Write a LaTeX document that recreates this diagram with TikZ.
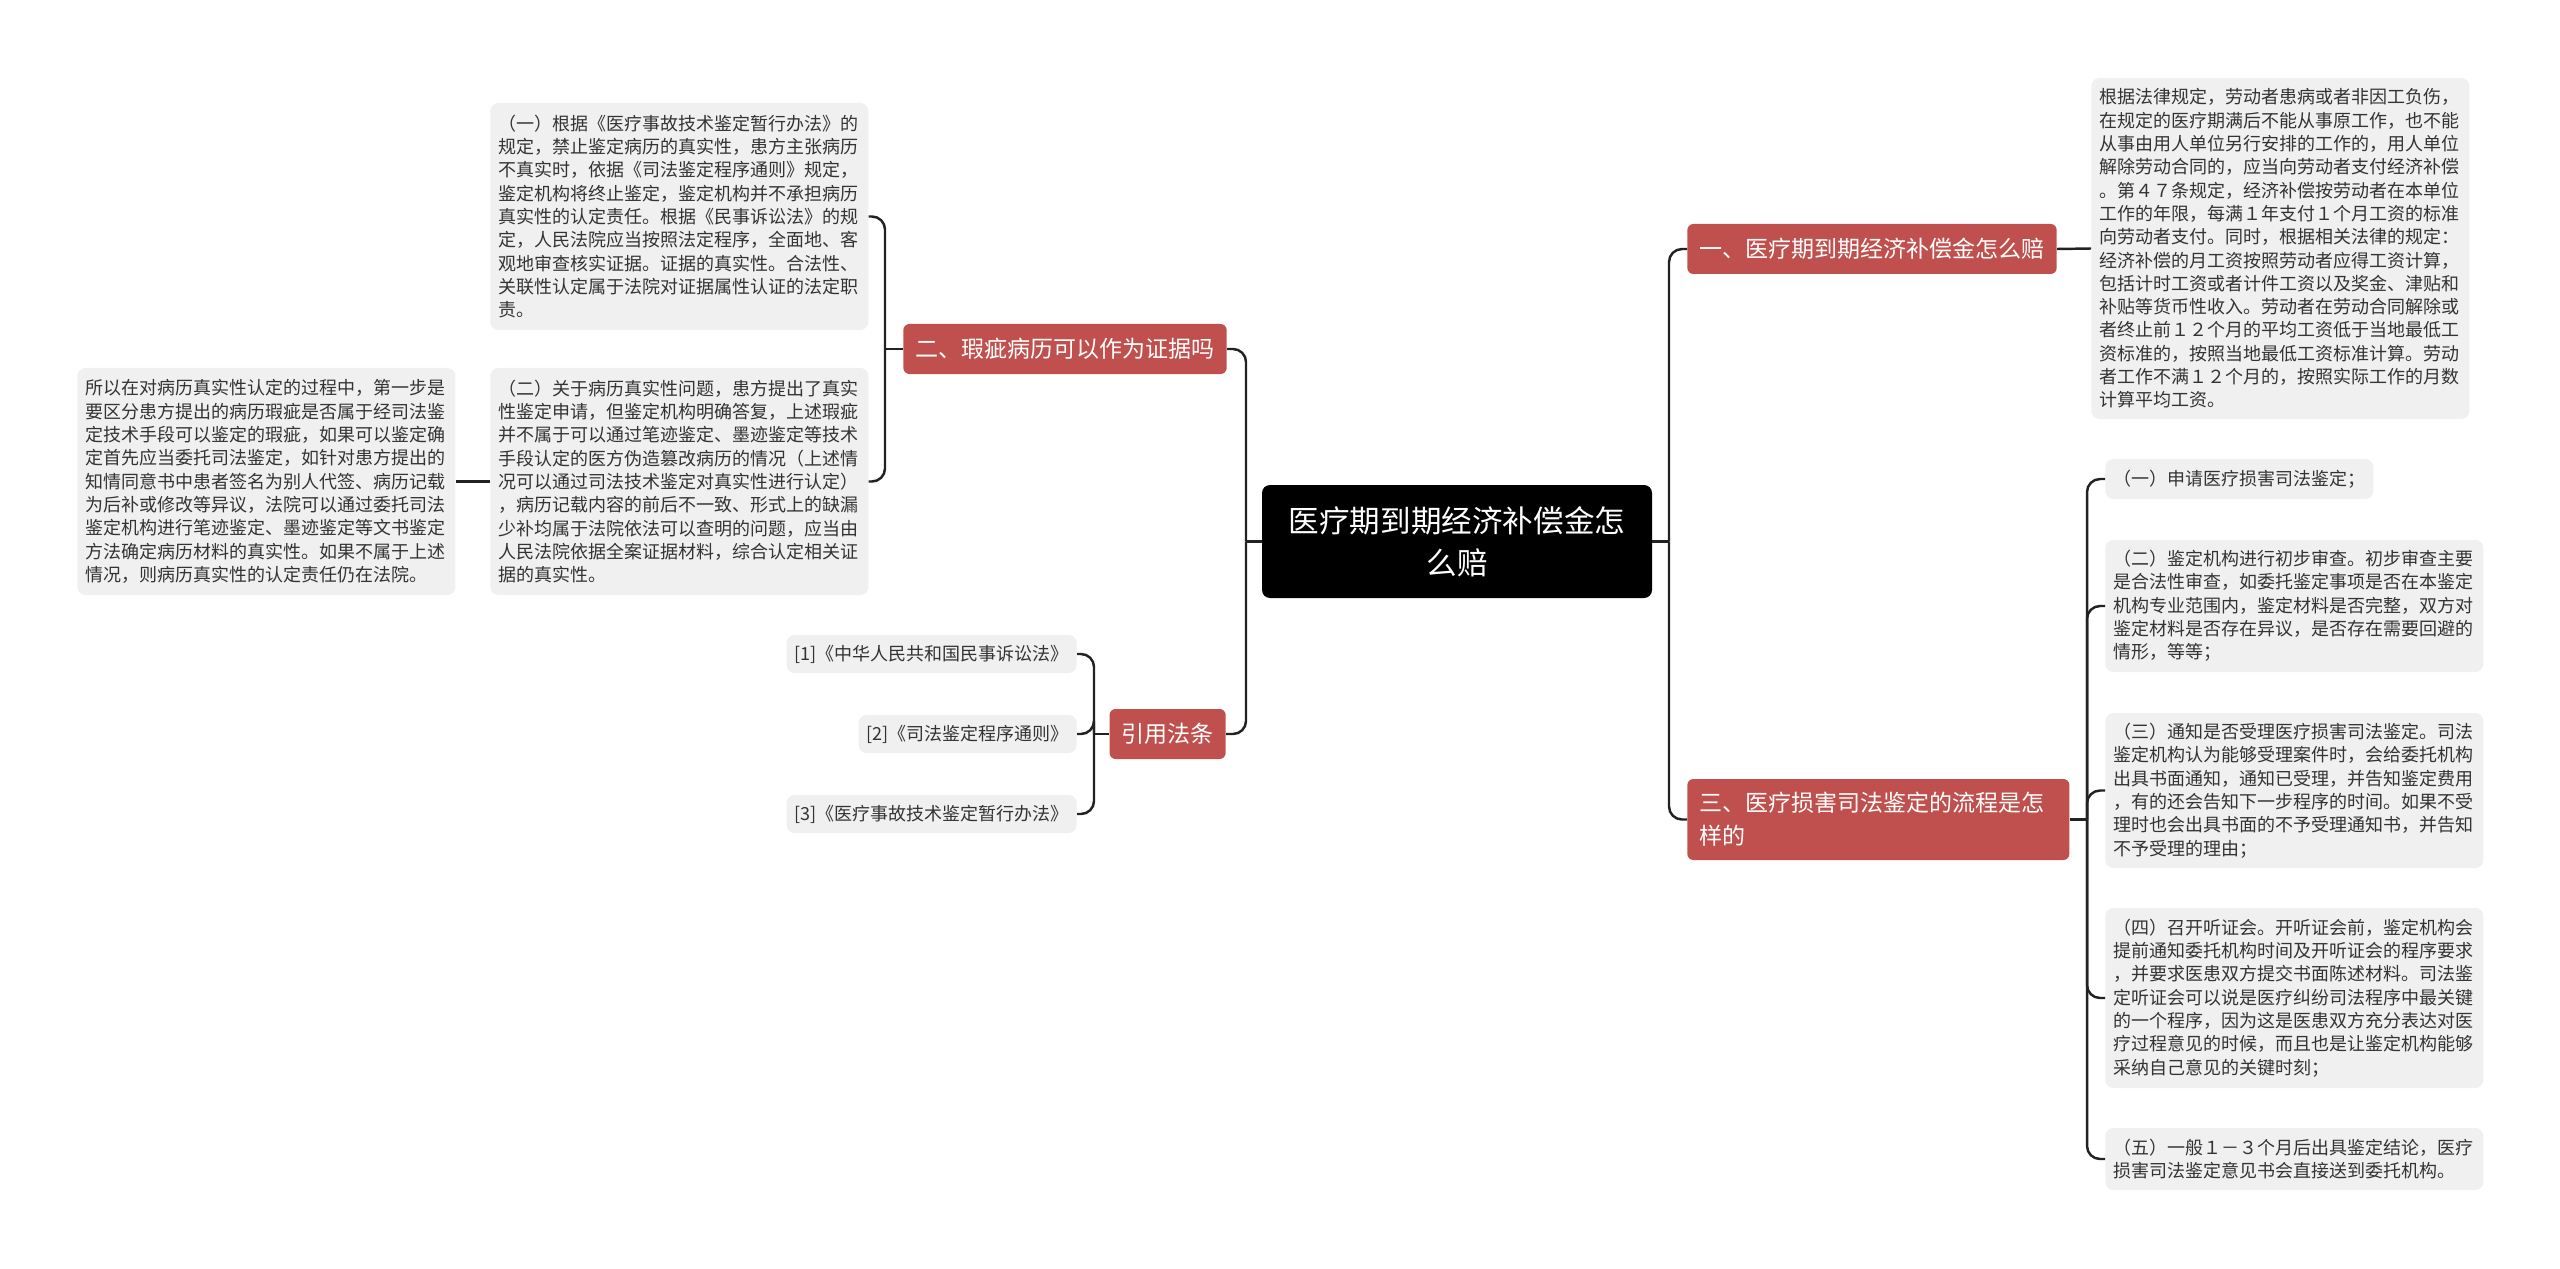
\documentclass[tikz,border=0pt]{standalone}
\usepackage{fontspec}
\setmainfont{Noto Sans CJK SC}
\usepackage{tikz}
\usetikzlibrary{positioning}
\definecolor{rootblack}{RGB}{0,0,0}
\definecolor{topicred}{RGB}{192,80,77}
\definecolor{leafgray}{RGB}{240,240,240}
\definecolor{leaftext}{RGB}{51,51,51}
\definecolor{linkgray}{RGB}{34,34,34}

\begin{document}
\begin{tikzpicture}[x=0.2mm,y=-0.2mm,
    root/.style={fill=rootblack,text=white,rounded corners=1.6mm,align=center,text width=70mm,
        minimum width=78mm,minimum height=22.6mm,font=\fontsize{17.4pt}{23.9pt}\selectfont},
    topic/.style={fill=topicred,text=white,rounded corners=1.2mm,inner xsep=2.4mm,
        minimum height=10mm,font=\fontsize{13.1pt}{18.8pt}\selectfont},
    leaf/.style={fill=leafgray,text=leaftext,rounded corners=1.6mm,inner xsep=1.6mm,
        align=left,font=\fontsize{10.24pt}{13.27pt}\selectfont},
    para/.style={leaf,text width=72.4mm},
    link/.style={draw=linkgray,line width=1.4pt,rounded corners=2.6mm}]
    \useasboundingbox (0,0) rectangle (2560,1269);

    % Centre
    \node[root] (root) at (1457,541.5) {医疗期到期经济补偿金怎\\么赔};

    % Topics
    \node[topic,anchor=west] (t1) at (1687,249) {一、医疗期到期经济补偿金怎么赔};
    \node[topic,anchor=west,align=left,text width=71.6mm,minimum height=16.2mm] (t3) at (1687,819.5)
        {三、医疗损害司法鉴定的流程是怎\\样的};
    \node[topic,anchor=east] (t2) at (1227,349) {二、瑕疵病历可以作为证据吗};
    \node[topic,anchor=east] (t4) at (1226,734) {引用法条};

    % Right side
    \node[para,anchor=west,minimum height=68.2mm] (r0) at (2091,248.5) {根据法律规定，劳动者患病或者非因工负伤，\\
        在规定的医疗期满后不能从事原工作，也不能\\
        从事由用人单位另行安排的工作的，用人单位\\
        解除劳动合同的，应当向劳动者支付经济补偿\\
        。第４７条规定，经济补偿按劳动者在本单位\\
        工作的年限，每满１年支付１个月工资的标准\\
        向劳动者支付。同时，根据相关法律的规定：\\
        经济补偿的月工资按照劳动者应得工资计算，\\
        包括计时工资或者计件工资以及奖金、津贴和\\
        补贴等货币性收入。劳动者在劳动合同解除或\\
        者终止前１２个月的平均工资低于当地最低工\\
        资标准的，按照当地最低工资标准计算。劳动\\
        者工作不满１２个月的，按照实际工作的月数\\
        计算平均工资。};
    \node[leaf,anchor=west,minimum height=8mm] (s1) at (2105,479) {（一）申请医疗损害司法鉴定；};
    \node[para,anchor=west,minimum height=26.4mm] (s2) at (2105,606) {（二）鉴定机构进行初步审查。初步审查主要\\
        是合法性审查，如委托鉴定事项是否在本鉴定\\
        机构专业范围内，鉴定材料是否完整，双方对\\
        鉴定材料是否存在异议，是否存在需要回避的\\
        情形，等等；};
    \node[para,anchor=west,minimum height=31mm] (s3) at (2105,790.5) {（三）通知是否受理医疗损害司法鉴定。司法\\
        鉴定机构认为能够受理案件时，会给委托机构\\
        出具书面通知，通知已受理，并告知鉴定费用\\
        ，有的还会告知下一步程序的时间。如果不受\\
        理时也会出具书面的不予受理通知书，并告知\\
        不予受理的理由；};
    \node[para,anchor=west,minimum height=36mm] (s4) at (2105,998) {（四）召开听证会。开听证会前，鉴定机构会\\
        提前通知委托机构时间及开听证会的程序要求\\
        ，并要求医患双方提交书面陈述材料。司法鉴\\
        定听证会可以说是医疗纠纷司法程序中最关键\\
        的一个程序，因为这是医患双方充分表达对医\\
        疗过程意见的时候，而且也是让鉴定机构能够\\
        采纳自己意见的关键时刻；};
    \node[para,anchor=west,minimum height=12.4mm] (s5) at (2105,1159) {（五）一般１－３个月后出具鉴定结论，医疗\\
        损害司法鉴定意见书会直接送到委托机构。};

    % Left side
    \node[para,anchor=west,minimum height=45.4mm] (a1) at (490,216.5) {（一）根据《医疗事故技术鉴定暂行办法》的\\
        规定，禁止鉴定病历的真实性，患方主张病历\\
        不真实时，依据《司法鉴定程序通则》规定，\\
        鉴定机构将终止鉴定，鉴定机构并不承担病历\\
        真实性的认定责任。根据《民事诉讼法》的规\\
        定，人民法院应当按照法定程序，全面地、客\\
        观地审查核实证据。证据的真实性。合法性、\\
        关联性认定属于法院对证据属性认证的法定职\\
        责。};
    \node[para,anchor=west,minimum height=45.4mm] (a2) at (490,481.5) {（二）关于病历真实性问题，患方提出了真实\\
        性鉴定申请，但鉴定机构明确答复，上述瑕疵\\
        并不属于可以通过笔迹鉴定、墨迹鉴定等技术\\
        手段认定的医方伪造篡改病历的情况（上述情\\
        况可以通过司法技术鉴定对真实性进行认定）\\
        ，病历记载内容的前后不一致、形式上的缺漏\\
        少补均属于法院依法可以查明的问题，应当由\\
        人民法院依据全案证据材料，综合认定相关证\\
        据的真实性。};
    \node[para,anchor=west,minimum height=45.4mm] (a3) at (77,481.5) {所以在对病历真实性认定的过程中，第一步是\\
        要区分患方提出的病历瑕疵是否属于经司法鉴\\
        定技术手段可以鉴定的瑕疵，如果可以鉴定确\\
        定首先应当委托司法鉴定，如针对患方提出的\\
        知情同意书中患者签名为别人代签、病历记载\\
        为后补或修改等异议，法院可以通过委托司法\\
        鉴定机构进行笔迹鉴定、墨迹鉴定等文书鉴定\\
        方法确定病历材料的真实性。如果不属于上述\\
        情况，则病历真实性的认定责任仍在法院。};
    \node[leaf,anchor=east,minimum height=7.6mm] (c1) at (1077,654) {[1]《中华人民共和国民事诉讼法》};
    \node[leaf,anchor=east,minimum height=7.6mm] (c2) at (1077,734) {[2]《司法鉴定程序通则》};
    \node[leaf,anchor=east,minimum height=7.6mm] (c3) at (1077,814) {[3]《医疗事故技术鉴定暂行办法》};

    % Links
    \coordinate (jr) at (1669,541.5);
    \coordinate (jl) at (1246,541.5);
    \draw[link] (root.east) -- (jr);
    \draw[link] (jr) |- (t1.west);
    \draw[link] (jr) |- (t3.west);
    \draw[link] (root.west) -- (jl);
    \draw[link] (jl) |- (t2.east);
    \draw[link] (jl) |- (t4.east);
    \draw[link] (t1.east) -- (r0.west);
    \coordinate (j3) at (2087,819.5);
    \draw[link] (t3.east) -- (j3);
    \foreach \n in {s1,s2,s3,s4,s5}
        \draw[link] (j3) |- (\n.west);
    \coordinate (j2) at (885,349);
    \draw[link] (t2.west) -- (j2);
    \draw[link] (j2) |- (a1.east);
    \draw[link] (j2) |- (a2.east);
    \draw[link] (a2.west) -- (a3.east);
    \coordinate (j4) at (1094,734);
    \draw[link] (t4.west) -- (j4);
    \foreach \n in {c1,c2,c3}
        \draw[link] (j4) |- (\n.east);
\end{tikzpicture}
\end{document}
